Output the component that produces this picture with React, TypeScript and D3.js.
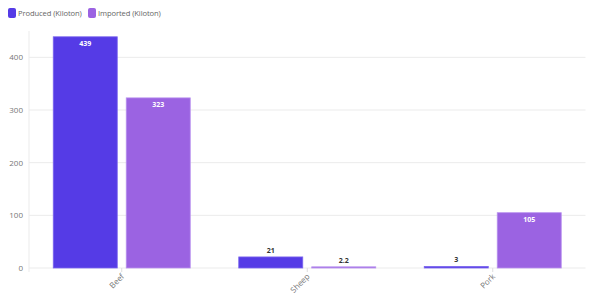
import React from "react";
import * as d3 from "d3";

const categories = ["Beef", "Sheep", "Pork"];
const seriesNames = ["Produced (Kiloton)", "Imported (Kiloton)"];
const produced = [439, 21, 3];
const imported = [323, 2.2, 105];
const yTicks = [0, 100, 200, 300, 400];
const colors = ["#553be6", "#9b63e2"];
const strokes = ["#7b66ee", "#b891ee"];

export default function App() {
  const W = 600, H = 296;
  const left = 29, right = 585.5, top = 31, bottom = 268;
  const x = d3.scaleBand<string>().domain(categories).range([left, right]).paddingInner(0).paddingOuter(0);
  const x1 = d3.scaleBand<string>().domain(seriesNames).range([24.25, x.bandwidth() - 24.25]).paddingInner(0.123);
  const y = d3.scaleLinear().domain([0, 450]).range([bottom, top]);
  const series = [produced, imported];
  const font = "'Open Sans', 'Noto Sans', sans-serif";

  return (
    <svg width={W} height={H} style={{ position: "absolute", left: 0, top: 0 }} fontFamily={font}>
      {/* legend */}
      {seriesNames.map((s, i) => {
        const lx = i === 0 ? 8 : 88;
        return (
          <g key={s}>
            <rect x={lx} y={8} width={8} height={10} rx={2} fill={colors[i]} />
            <text x={lx + 10} y={16.3} fontSize={7.6} fill="#666" letterSpacing={-0.1}>{s}</text>
          </g>
        );
      })}
      {/* grid */}
      {yTicks.map((t) => (
        <g key={t}>
          <line x1={left} x2={right} y1={y(t)} y2={y(t)} stroke="#ebebeb" strokeWidth={1} />
          <text x={23} y={y(t) + 3} fontSize={8} fill="#777" textAnchor="end">{t}</text>
        </g>
      ))}
      <line x1={left} x2={left} y1={top} y2={bottom + 4} stroke="#ebebeb" />
      {categories.map((c) => {
        const cx = x(c)! + x.bandwidth() / 2;
        return (
          <g key={c}>
            <line x1={cx} x2={cx} y1={bottom} y2={bottom + 4} stroke="#ddd" />
            <text
              transform={`translate(${cx + 3},${bottom + 9}) rotate(-45)`}
              fontSize={8}
              fill="#777"
              textAnchor="end"
            >
              {c}
            </text>
          </g>
        );
      })}
      {/* bars */}
      {categories.map((c, ci) =>
        seriesNames.map((s, si) => {
          const v = series[si][ci];
          const bx = x(c)! + x1(s)!;
          const bw = x1.bandwidth();
          const by = y(v);
          const h = bottom - by;
          const inside = h > 20;
          return (
            <g key={c + s}>
              <rect x={bx} y={by} width={bw} height={Math.max(h, 0.8)} fill={colors[si]} stroke={strokes[si]} strokeWidth={0.8} />
              <text
                x={bx + bw / 2}
                y={inside ? by + 9 : by - 4}
                fontSize={7}
                fontWeight="bold"
                fill={inside ? "#fff" : "#333"}
                textAnchor="middle"
              >
                {v}
              </text>
            </g>
          );
        })
      )}
    </svg>
  );
}
